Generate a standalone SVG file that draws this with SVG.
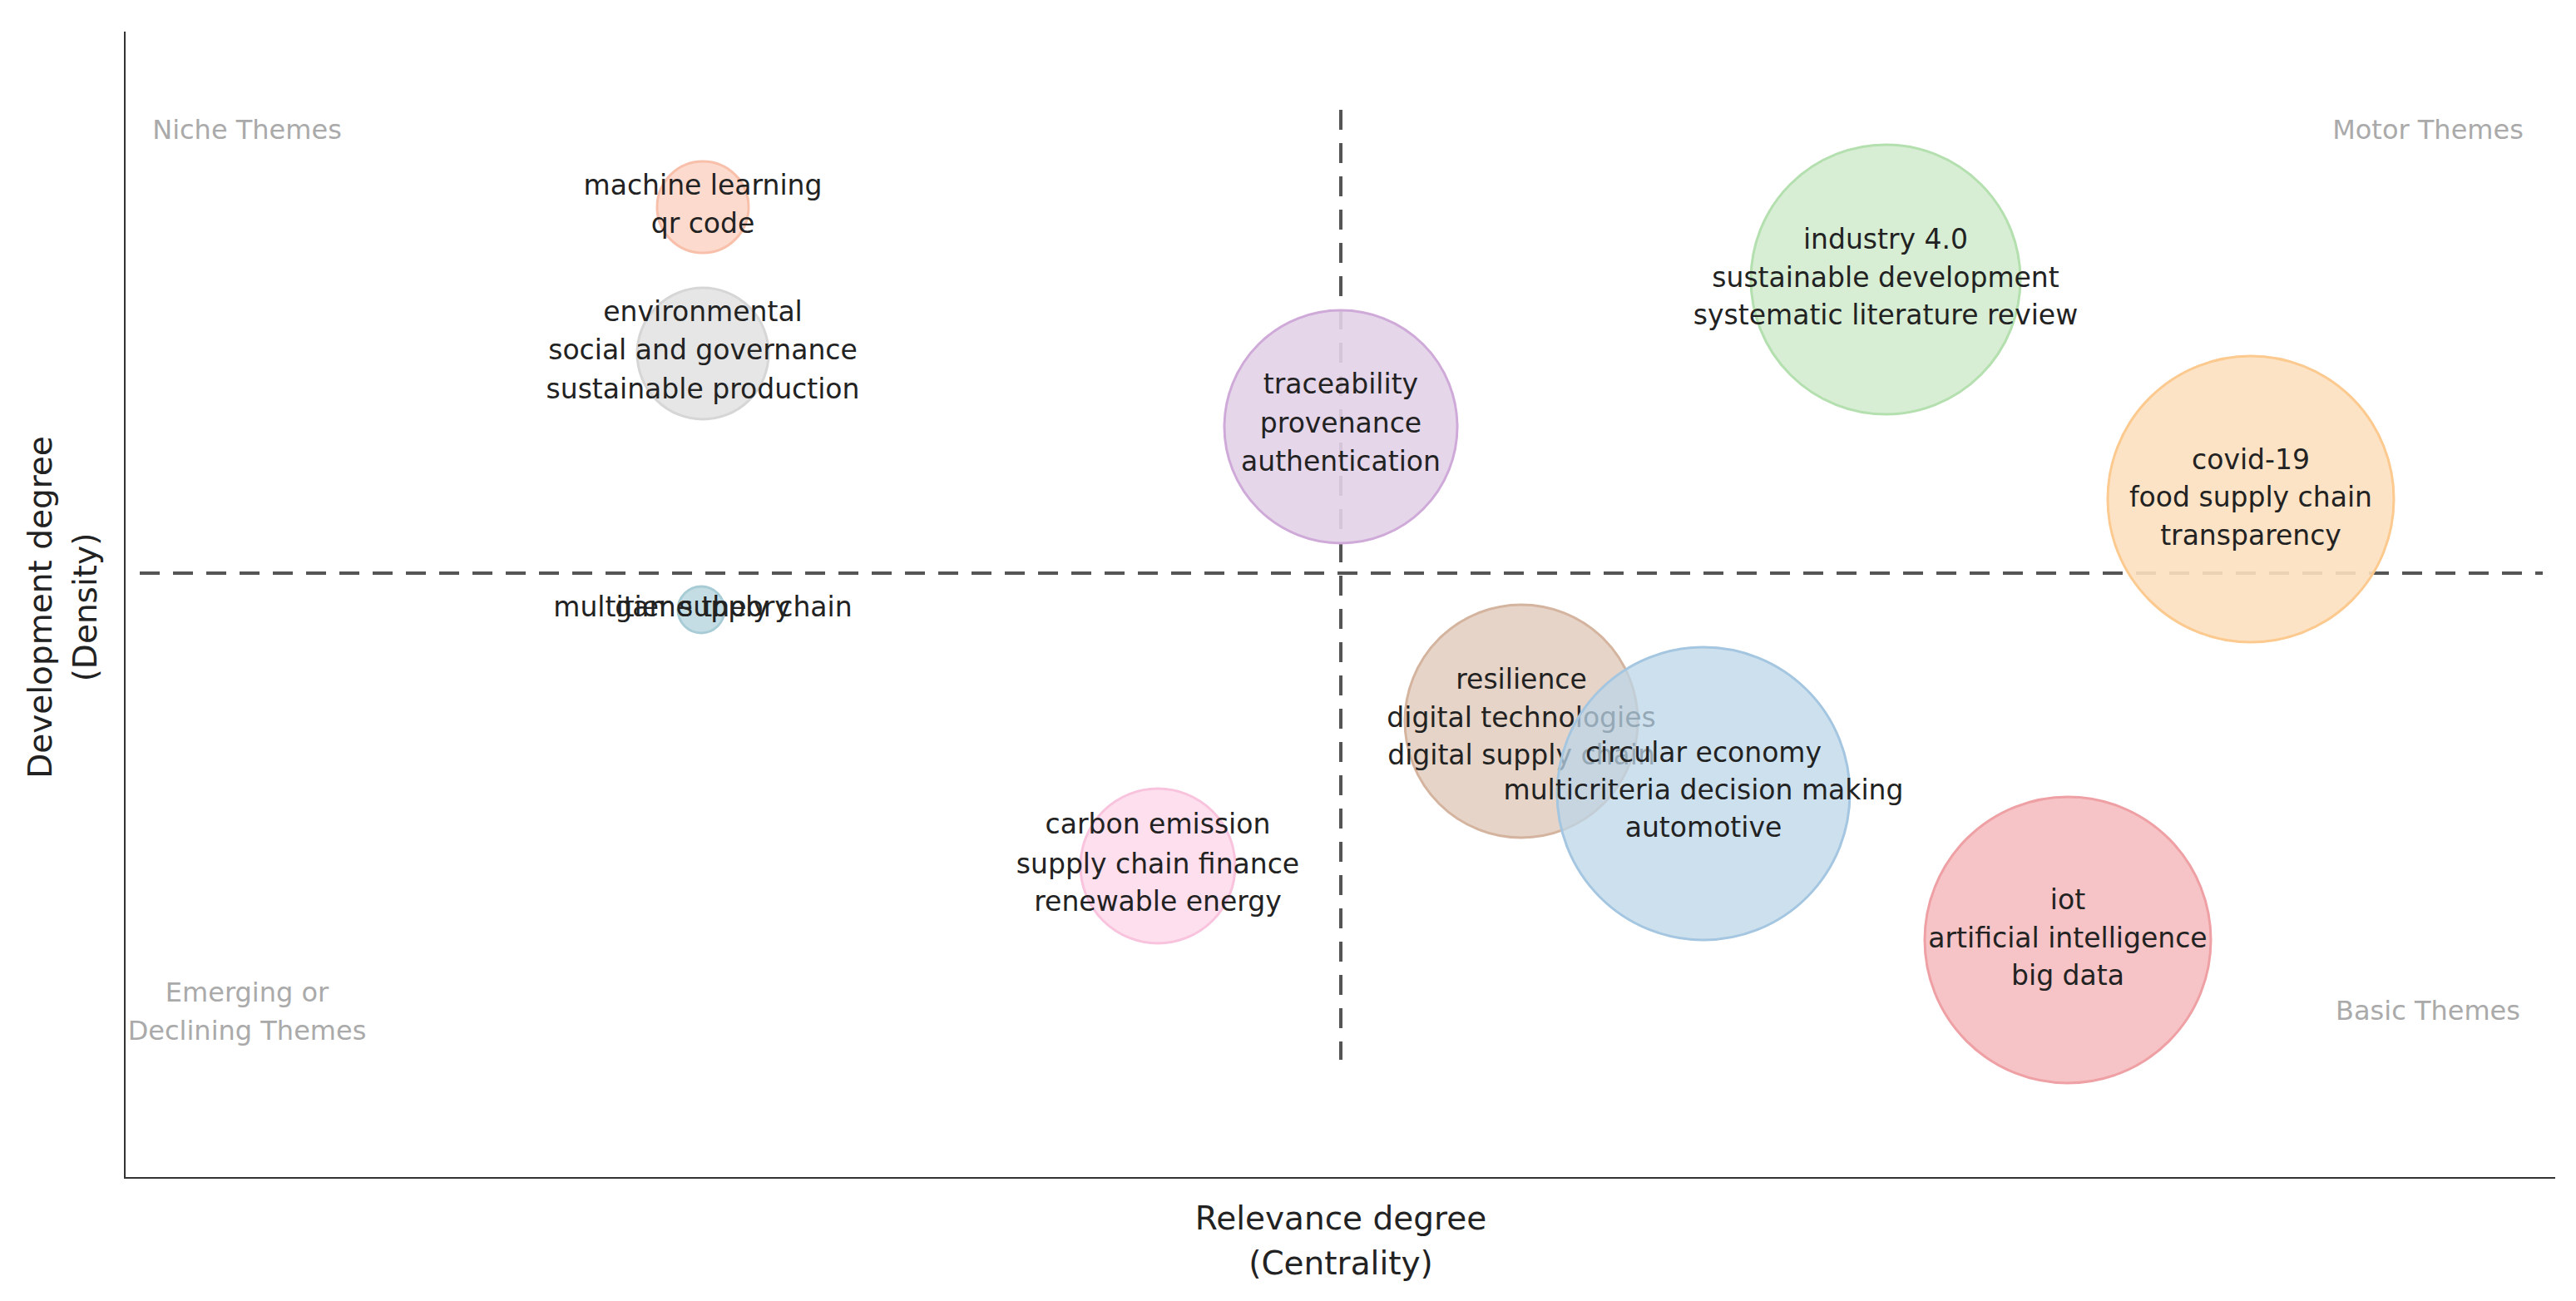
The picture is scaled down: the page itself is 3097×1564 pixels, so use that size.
<svg xmlns="http://www.w3.org/2000/svg" width="3097" height="1564" viewBox="0 0 3097 1564">
<style>
text{font-family:"DejaVu Sans",Verdana,sans-serif;}
.l{font-size:33px;fill:#222;text-anchor:middle;}
.c{font-size:32px;fill:#aaa;text-anchor:middle;}
.a{font-size:39px;fill:#222;text-anchor:middle;}
.d{stroke:#555;stroke-width:4;stroke-dasharray:24,16;fill:none;}
circle{stroke-width:3;}
</style>
<rect width="3097" height="1564" fill="#fff"/>
<g id="axes">
<line x1="150" y1="38" x2="150" y2="1417" stroke="#333" stroke-width="2"/>
<line x1="149" y1="1416" x2="3072" y2="1416" stroke="#333" stroke-width="2"/>
<text class="a" x="1612" y="1478">Relevance degree</text>
<text class="a" x="1612" y="1532">(Centrality)</text>
<text class="a" transform="translate(62,730) rotate(-90)">Development degree</text>
<text class="a" transform="translate(116,730) rotate(-90)">(Density)</text>
<text class="c" x="297" y="167">Niche Themes</text>
<text class="c" x="2919" y="167">Motor Themes</text>
<text class="c" x="297" y="1204">Emerging or</text>
<text class="c" x="297" y="1250">Declining Themes</text>
<text class="c" x="2919" y="1226">Basic Themes</text>
</g>
<g id="connectors">
<line class="d" x1="168" y1="689" x2="3057" y2="689"/>
<line class="d" x1="1612" y1="132" x2="1612" y2="1274"/>
</g>
<g id="n1"><circle cx="845" cy="249" r="55" fill="#fcd5c6" fill-opacity="0.85" stroke="#f8c0aa"/>
<text class="l" x="845" y="234">machine learning</text><text class="l" x="845" y="280">qr code</text></g>
<g id="n2"><circle cx="845" cy="425" r="79" fill="#e3e3e3" fill-opacity="0.9" stroke="#d6d6d6"/>
<text class="l" x="845" y="386">environmental</text><text class="l" x="845" y="432">social and governance</text><text class="l" x="845" y="479">sustainable production</text></g>
<g id="n3"><circle cx="1612" cy="513" r="140" fill="#e2d2e8" fill-opacity="0.9" stroke="#cfaad9"/>
<text class="l" x="1612" y="473">traceability</text><text class="l" x="1612" y="520">provenance</text><text class="l" x="1612" y="566">authentication</text></g>
<g id="n4"><circle cx="2267" cy="336" r="162" fill="#d3ecd0" fill-opacity="0.9" stroke="#b4dfae"/>
<text class="l" x="2267" y="299">industry 4.0</text><text class="l" x="2267" y="345">sustainable development</text><text class="l" x="2267" y="390">systematic literature review</text></g>
<g id="n5"><circle cx="2706" cy="600" r="172" fill="#fde0c0" fill-opacity="0.9" stroke="#fcc98f"/>
<text class="l" x="2706" y="564">covid-19</text><text class="l" x="2706" y="609">food supply chain</text><text class="l" x="2706" y="655">transparency</text></g>
<g id="n6"><circle cx="843" cy="733" r="28" fill="#c4dde4" stroke="#a8ccd6"/>
<text class="l" x="845" y="741">multitier supply chain</text><text class="l" x="845" y="741">game theory</text></g>
<g id="n7"><circle cx="1829" cy="867" r="140" fill="#e3cfc2" fill-opacity="0.9" stroke="#d4b49f"/>
<text class="l" x="1829" y="828">resilience</text><text class="l" x="1829" y="874">digital technologies</text><text class="l" x="1829" y="919">digital supply chain</text></g>
<g id="n8"><circle cx="2048" cy="954" r="176" fill="#bcd5e8" fill-opacity="0.75" stroke="#a4c6e0"/>
<text class="l" x="2048" y="916">circular economy</text><text class="l" x="2048" y="961">multicriteria decision making</text><text class="l" x="2048" y="1006">automotive</text></g>
<g id="n9"><circle cx="1392" cy="1041" r="93" fill="#fddcec" fill-opacity="0.9" stroke="#f9c3de"/>
<text class="l" x="1392" y="1002">carbon emission</text><text class="l" x="1392" y="1050">supply chain finance</text><text class="l" x="1392" y="1095">renewable energy</text></g>
<g id="n10"><circle cx="2486" cy="1130" r="172" fill="#f6c4c6" stroke="#eea0a4"/>
<text class="l" x="2486" y="1093">iot</text><text class="l" x="2486" y="1139">artificial intelligence</text><text class="l" x="2486" y="1184">big data</text></g>
</svg>
